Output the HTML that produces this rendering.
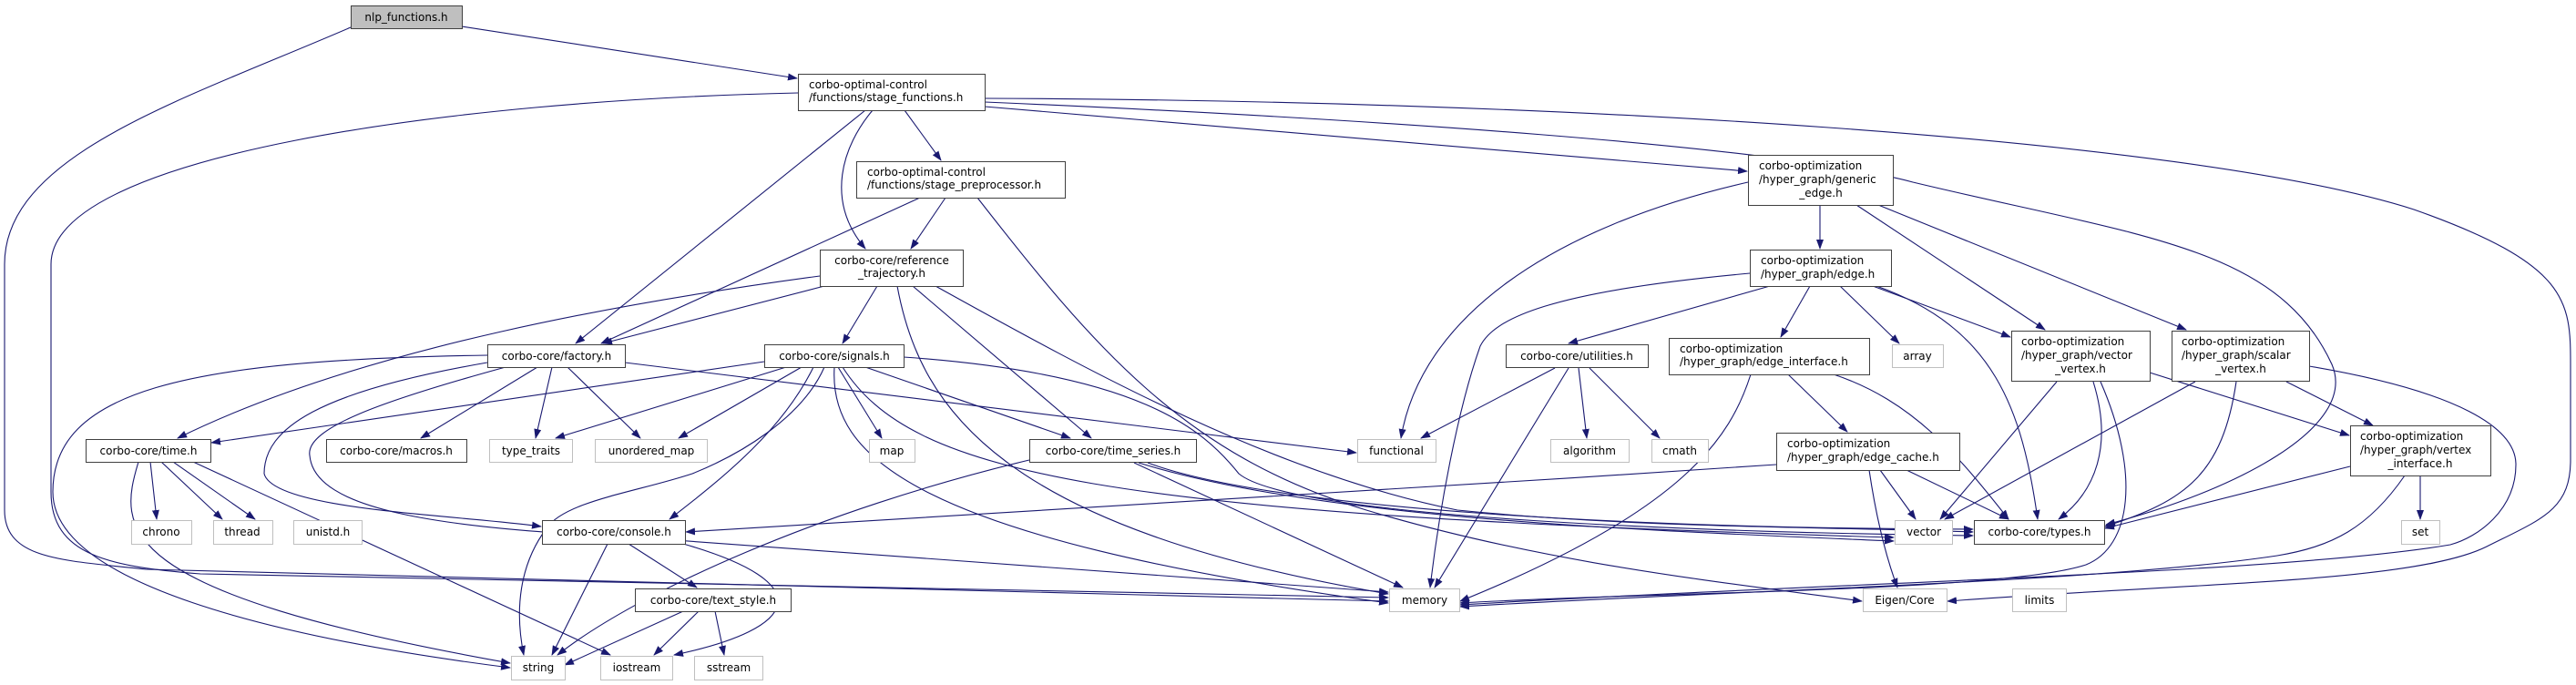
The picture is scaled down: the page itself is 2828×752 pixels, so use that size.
<!DOCTYPE html>
<html><head><meta charset="utf-8"><style>
html,body{margin:0;padding:0;background:#fff;}
svg{display:block;}
text{font-family:"DejaVu Sans","Liberation Sans",sans-serif;font-size:12px;fill:#000;}
.n{fill:#fff;stroke:#404040;stroke-width:1;}
.g{fill:#fff;stroke:#bfbfbf;stroke-width:1;}
.e{fill:none;stroke:#191970;stroke-width:1.1;marker-end:url(#a);}
</style></head><body>
<svg width="2828" height="752" viewBox="0 0 2828 752" xmlns="http://www.w3.org/2000/svg">
<defs><marker id="a" markerWidth="11" markerHeight="8" refX="10" refY="4" orient="auto" markerUnits="userSpaceOnUse"><path d="M0,0 L11,4 L0,8 z" fill="#191970"/></marker></defs>

<!-- edges -->
<path class="e" d="M385,30 C200,110 5,170 5,290 L5,560 C5,615 70,615 160,625 L1524,660"/>
<path class="e" d="M507,29 L875,86"/>
<path class="e" d="M876,102 C500,110 56,170 56,290 L56,540 C56,610 120,622 220,630 L1524,656"/>
<path class="e" d="M950,121 L632,377"/>
<path class="e" d="M958,121 C925,160 905,220 950,273"/>
<path class="e" d="M993,121 L1033,176"/>
<path class="e" d="M1081,117 L1918,188"/>
<path class="e" d="M1081,112 C1500,130 1950,160 2100,200 C2350,260 2500,270 2560,400 C2590,470 2450,540 2312,576"/>
<path class="e" d="M1081,108 C1700,110 2400,150 2650,230 C2820,290 2822,330 2822,400 L2822,505 C2822,560 2790,570 2730,600 C2650,640 2400,640 2138,660"/>
<path class="e" d="M1010,217 L660,377"/>
<path class="e" d="M1038,217 L1000,273"/>
<path class="e" d="M1073,217 C1200,380 1300,500 1500,560 C1700,620 1900,640 2044,660"/>
<path class="e" d="M900,303 C700,330 400,380 195,481"/>
<path class="e" d="M905,314 L662,377"/>
<path class="e" d="M963,314 L925,377"/>
<path class="e" d="M1002,314 L1198,481"/>
<path class="e" d="M985,314 C1010,450 1100,580 1524,652"/>
<path class="e" d="M1027,314 C1200,410 1400,520 1600,560 C1800,580 2000,578 2166,584"/>
<path class="e" d="M535,390 C200,395 58,430 58,540 C58,640 300,700 560,733"/>
<path class="e" d="M535,398 C350,430 290,470 290,520 C300,560 500,565 594,578"/>
<path class="e" d="M555,403 C420,440 335,470 340,500 C345,560 480,580 700,590 L1524,650"/>
<path class="e" d="M590,403 L462,481"/>
<path class="e" d="M606,403 L588,481"/>
<path class="e" d="M623,403 L703,481"/>
<path class="e" d="M686,398 L1489,497"/>
<path class="e" d="M839,397 L232,486"/>
<path class="e" d="M863,403 L610,481"/>
<path class="e" d="M880,403 L745,481"/>
<path class="e" d="M893,403 C860,470 800,520 735,570"/>
<path class="e" d="M905,403 C880,460 810,500 760,520 C700,540 620,550 600,580 C570,620 565,670 575,719"/>
<path class="e" d="M920,403 L968,481"/>
<path class="e" d="M950,403 L1175,481"/>
<path class="e" d="M916,403 C910,500 1000,590 1524,662"/>
<path class="e" d="M992,392 C1250,410 1320,470 1360,520 C1420,570 1900,585 2166,588"/>
<path class="e" d="M925,403 C1000,520 1200,565 2079,590"/>
<path class="e" d="M165,507 L172,570"/>
<path class="e" d="M177,507 L244,570"/>
<path class="e" d="M190,507 L280,570"/>
<path class="e" d="M152,507 C130,580 120,650 560,728"/>
<path class="e" d="M212,507 L670,719"/>
<path class="e" d="M667,597 L606,719"/>
<path class="e" d="M690,597 L765,645"/>
<path class="e" d="M750,597 C900,640 880,690 740,719"/>
<path class="e" d="M750,671 L620,730"/>
<path class="e" d="M767,671 L718,719"/>
<path class="e" d="M785,671 L795,719"/>
<path class="e" d="M1130,505 C900,560 700,650 612,719"/>
<path class="e" d="M1245,508 L1540,645"/>
<path class="e" d="M1260,508 C1400,560 1800,580 2166,581"/>
<path class="e" d="M1250,508 C1450,570 1800,582 2079,594"/>
<path class="e" d="M1707,404 L1560,481"/>
<path class="e" d="M1722,404 L1575,645"/>
<path class="e" d="M1733,404 L1742,481"/>
<path class="e" d="M1745,404 L1822,481"/>
<path class="e" d="M1919,200 C1700,250 1560,350 1538,481"/>
<path class="e" d="M1998,225 L1998,273"/>
<path class="e" d="M2038,225 L2245,362"/>
<path class="e" d="M2062,225 L2400,362"/>
<path class="e" d="M1921,300 C1700,320 1640,350 1625,380 C1600,450 1580,560 1570,645"/>
<path class="e" d="M1943,314 L1722,377"/>
<path class="e" d="M1987,314 L1955,370"/>
<path class="e" d="M2020,314 L2085,377"/>
<path class="e" d="M2056,314 L2207,370"/>
<path class="e" d="M2060,314 C2190,360 2220,450 2237,570"/>
<path class="e" d="M1922,411 C1900,480 1850,560 1603,660"/>
<path class="e" d="M1963,411 L2028,474"/>
<path class="e" d="M2013,411 C2100,440 2150,500 2205,570"/>
<path class="e" d="M1950,510 C1500,540 1000,570 753,584"/>
<path class="e" d="M2052,516 C2060,570 2070,610 2083,645"/>
<path class="e" d="M2064,516 L2103,570"/>
<path class="e" d="M2093,516 L2205,570"/>
<path class="e" d="M2258,419 L2130,570"/>
<path class="e" d="M2298,419 C2320,490 2300,540 2260,570"/>
<path class="e" d="M2306,419 C2350,520 2340,600 2290,620 C2200,650 1800,650 1603,662"/>
<path class="e" d="M2360,409 L2579,478"/>
<path class="e" d="M2410,419 L2135,570"/>
<path class="e" d="M2455,419 C2440,520 2400,550 2311,578"/>
<path class="e" d="M2510,419 L2605,467"/>
<path class="e" d="M2535,402 C2700,430 2762,470 2762,510 C2762,560 2720,590 2690,598 C2500,630 2000,640 1603,664"/>
<path class="e" d="M2580,512 L2311,580"/>
<path class="e" d="M2640,522 C2600,580 2560,600 2500,610 C2300,640 1900,648 1603,666"/>
<path class="e" d="M2657,522 L2657,570"/>

<!-- nodes -->
<rect x="385.5" y="6.5" width="122" height="25" fill="#bfbfbf" stroke="#404040"/><text x="446" y="23" text-anchor="middle">nlp_functions.h</text>
<rect class="n" x="876.5" y="81.5" width="205" height="40"/><text x="888" y="97">corbo-optimal-control</text><text x="888" y="111">/functions/stage_functions.h</text>
<rect class="n" x="940.5" y="177.5" width="229" height="40"/><text x="952" y="193">corbo-optimal-control</text><text x="952" y="207">/functions/stage_preprocessor.h</text>
<rect class="n" x="900.5" y="274.5" width="157" height="40"/><text x="979" y="290" text-anchor="middle">corbo-core/reference</text><text x="979" y="304" text-anchor="middle">_trajectory.h</text>
<rect class="n" x="535.5" y="378.5" width="151" height="25"/><text x="611" y="395" text-anchor="middle">corbo-core/factory.h</text>
<rect class="n" x="839.5" y="378.5" width="153" height="25"/><text x="916" y="395" text-anchor="middle">corbo-core/signals.h</text>
<rect class="n" x="94.5" y="482.5" width="137" height="25"/><text x="163" y="499" text-anchor="middle">corbo-core/time.h</text>
<rect class="n" x="358.5" y="482.5" width="154" height="25"/><text x="435" y="499" text-anchor="middle">corbo-core/macros.h</text>
<rect class="g" x="537.5" y="482.5" width="91" height="25"/><text x="583" y="499" text-anchor="middle">type_traits</text>
<rect class="g" x="653.5" y="482.5" width="123" height="25"/><text x="715" y="499" text-anchor="middle">unordered_map</text>
<rect class="g" x="954.5" y="482.5" width="50" height="25"/><text x="979" y="499" text-anchor="middle">map</text>
<rect class="n" x="1130.5" y="482.5" width="183" height="25"/><text x="1222" y="499" text-anchor="middle">corbo-core/time_series.h</text>
<rect class="g" x="1490.5" y="482.5" width="86" height="25"/><text x="1533" y="499" text-anchor="middle">functional</text>
<rect class="n" x="1653.5" y="378.5" width="156" height="25"/><text x="1731" y="395" text-anchor="middle">corbo-core/utilities.h</text>
<rect class="g" x="1702.5" y="482.5" width="86" height="25"/><text x="1745" y="499" text-anchor="middle">algorithm</text>
<rect class="g" x="1813.5" y="482.5" width="62" height="25"/><text x="1844" y="499" text-anchor="middle">cmath</text>
<rect class="n" x="1919.5" y="170.5" width="159" height="55"/><text x="1931" y="186">corbo-optimization</text><text x="1931" y="201">/hyper_graph/generic</text><text x="1999" y="216" text-anchor="middle">_edge.h</text>
<rect class="n" x="1921.5" y="274.5" width="155" height="40"/><text x="1933" y="290">corbo-optimization</text><text x="1933" y="305">/hyper_graph/edge.h</text>
<rect class="n" x="1832.5" y="371.5" width="220" height="40"/><text x="1844" y="387">corbo-optimization</text><text x="1844" y="401">/hyper_graph/edge_interface.h</text>
<rect class="g" x="2077.5" y="378.5" width="56" height="25"/><text x="2105" y="395" text-anchor="middle">array</text>
<rect class="n" x="2208.5" y="363.5" width="152" height="55"/><text x="2219" y="379">corbo-optimization</text><text x="2219" y="394">/hyper_graph/vector</text><text x="2284" y="409" text-anchor="middle">_vertex.h</text>
<rect class="n" x="2384.5" y="363.5" width="151" height="55"/><text x="2395" y="379">corbo-optimization</text><text x="2395" y="394">/hyper_graph/scalar</text><text x="2460" y="409" text-anchor="middle">_vertex.h</text>
<rect class="n" x="1950.5" y="475.5" width="201" height="41"/><text x="1962" y="491">corbo-optimization</text><text x="1962" y="506">/hyper_graph/edge_cache.h</text>
<rect class="n" x="2580.5" y="467.5" width="154" height="55"/><text x="2591" y="483">corbo-optimization</text><text x="2591" y="498">/hyper_graph/vertex</text><text x="2657" y="513" text-anchor="middle">_interface.h</text>
<rect class="g" x="144.5" y="571.5" width="66" height="26"/><text x="177" y="588" text-anchor="middle">chrono</text>
<rect class="g" x="234.5" y="571.5" width="65" height="26"/><text x="266" y="588" text-anchor="middle">thread</text>
<rect class="g" x="322.5" y="571.5" width="75" height="26"/><text x="360" y="588" text-anchor="middle">unistd.h</text>
<rect class="n" x="595.5" y="571.5" width="157" height="26"/><text x="674" y="588" text-anchor="middle">corbo-core/console.h</text>
<rect class="g" x="2080.5" y="571.5" width="63" height="26"/><text x="2112" y="588" text-anchor="middle">vector</text>
<rect class="n" x="2167.5" y="571.5" width="143" height="26"/><text x="2239" y="588" text-anchor="middle">corbo-core/types.h</text>
<rect class="g" x="2636.5" y="571.5" width="42" height="26"/><text x="2657" y="588" text-anchor="middle">set</text>
<rect class="n" x="697.5" y="646.5" width="171" height="25"/><text x="783" y="663" text-anchor="middle">corbo-core/text_style.h</text>
<rect class="g" x="1525.5" y="646.5" width="77" height="25"/><text x="1564" y="663" text-anchor="middle">memory</text>
<rect class="g" x="2045.5" y="646.5" width="92" height="25"/><text x="2091" y="663" text-anchor="middle">Eigen/Core</text>
<rect class="g" x="2209.5" y="646.5" width="59" height="25"/><text x="2239" y="663" text-anchor="middle">limits</text>
<rect class="g" x="561.5" y="720.5" width="59" height="26"/><text x="591" y="737" text-anchor="middle">string</text>
<rect class="g" x="659.5" y="720.5" width="79" height="26"/><text x="699" y="737" text-anchor="middle">iostream</text>
<rect class="g" x="762.5" y="720.5" width="75" height="26"/><text x="800" y="737" text-anchor="middle">sstream</text>
</svg>
</body></html>
